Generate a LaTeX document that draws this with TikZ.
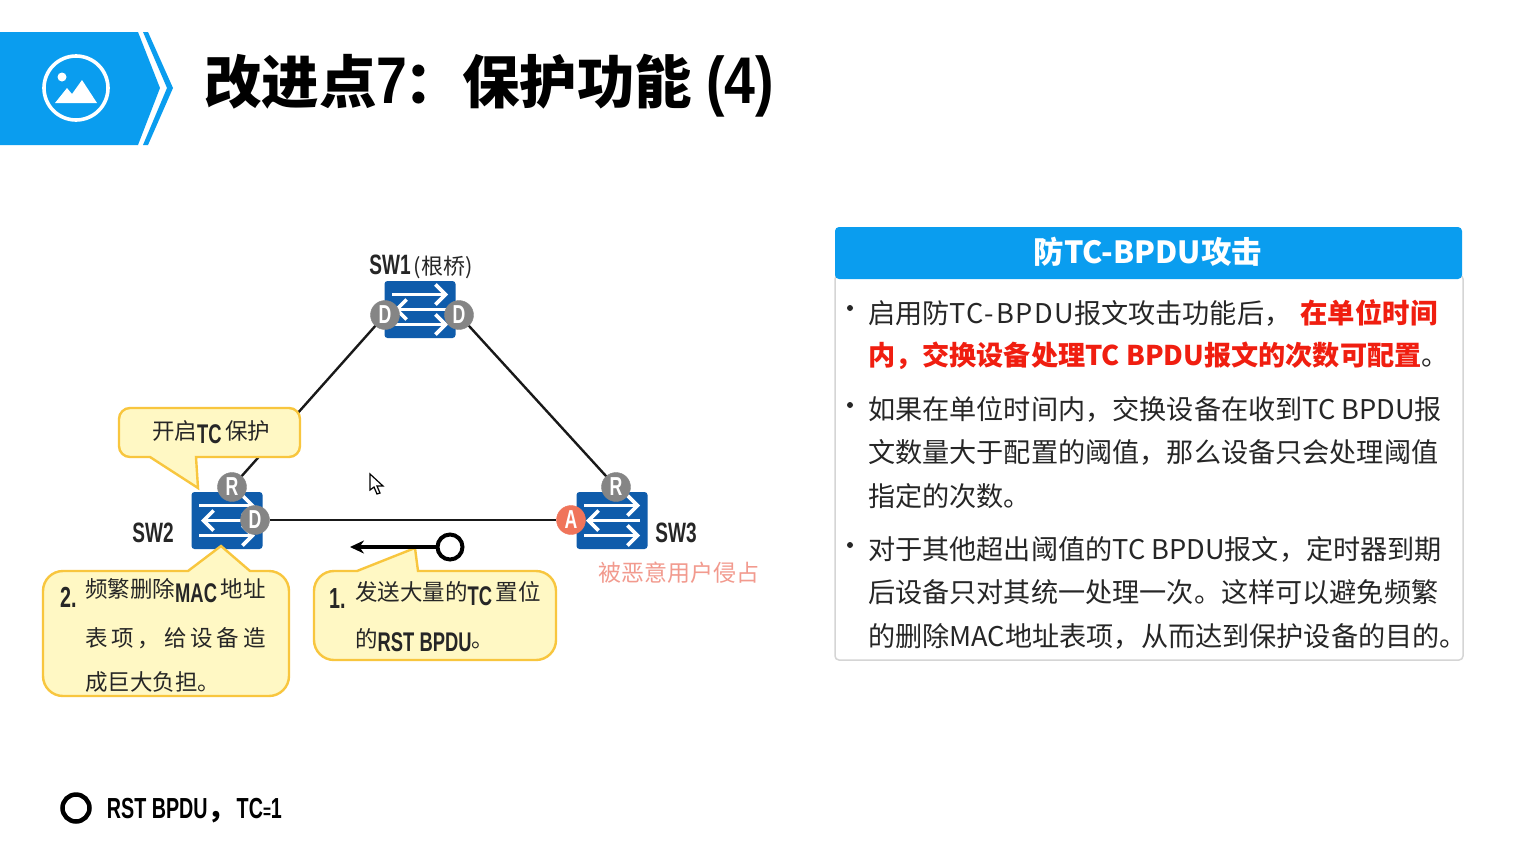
\documentclass[tikz,border=0pt]{standalone}
\usepackage{fontspec}
\usetikzlibrary{arrows.meta, positioning}
\setmainfont{Noto Sans CJK SC}
\newfontfamily\narrowlat[FakeStretch=0.68]{Liberation Sans}
\newfontfamily\narrowbold[FakeStretch=0.84]{Liberation Sans}
\definecolor{bannerblue}{HTML}{0A9DEF}
\definecolor{switchblue}{HTML}{0F5CAB}
\definecolor{portgray}{HTML}{858585}
\definecolor{portred}{HTML}{F0745A}
\definecolor{notefill}{HTML}{FFF8C4}
\definecolor{noteline}{HTML}{F8C63E}
\definecolor{attackred}{HTML}{F29A8E}
\definecolor{panelline}{HTML}{D5D5D5}
\definecolor{hotred}{HTML}{F01E10}
\newcommand{\lat}[1]{{\narrowlat\bfseries #1}}
\newcommand{\latb}[1]{{\narrowbold\bfseries #1}}
\newcommand{\droplat}[2]{\raisebox{-#1}{\fontsize{27pt}{27pt}\selectfont\lat{#2}}}
\tikzset{
  switchbox/.style={fill=switchblue, rounded corners=3pt, minimum width=71pt,
        minimum height=57pt, inner sep=0pt},
  swarrow/.style={draw=white, line width=3.6pt, -{Straight Barb[length=10pt,width=20pt]}},
  portnode/.style={circle, fill=portgray, draw=portgray, minimum size=29pt, inner sep=0pt,
        text=white, font=\fontsize{26pt}{26pt}\selectfont\narrowlat\bfseries},
  linkline/.style={line width=2.4pt, black!90},
  notebox/.style={draw=noteline, fill=notefill, line width=2.4pt, rounded corners=11pt},
  notetext/.style={anchor=west, inner sep=0pt, text=black!85,
        font=\fontsize{22.5pt}{23pt}\selectfont},
  swlabel/.style={inner sep=0pt, text=black!85, font=\fontsize{28pt}{28pt}\selectfont\narrowlat\bfseries},
  paneltext/.style={anchor=west, inner sep=0pt, text=black!85,
        font=\fontsize{27.15pt}{27pt}\selectfont},
  bulletdot/.style={circle, fill=black!85, minimum size=6pt, inner sep=0pt}
}

\begin{document}
\begin{tikzpicture}[x=1pt, y=-1pt, >=Stealth]
  \useasboundingbox (0,0) rectangle (1533,846);
  \fill[white] (0,0) rectangle (1533,846);

  % banner
  \fill[bannerblue] (0,32) -- (138,32) -- (160,88) -- (138,145) -- (0,145) -- cycle;
  \fill[bannerblue] (143,32) -- (148,32) -- (173,88) -- (148,145) -- (143,145) -- (167,88) -- cycle;
  \draw[white, line width=3.6pt] (76,88) circle (32);
  \fill[white] (62,77) circle (4.5);
  \fill[white] (55,103) -- (67,88) -- (72,94) -- (82,80) -- (97,103) -- cycle;
  \node[anchor=west, inner sep=0pt, font=\fontsize{57.5pt}{57pt}\selectfont\bfseries] (title) at (204,86)
    {改进点{\fontsize{66pt}{66pt}\selectfont\latb{7}}\hspace{-3pt}：保护功能\hspace{14pt}{\fontsize{66pt}{66pt}\selectfont\latb{(4)}}};

  % switches
  \foreach \swname/\swx/\swy in {sw1/420/309.5, sw2/227/520.5, sw3/612/520.5} {
    \node[switchbox] (\swname) at (\swx,\swy) {};
    \begin{scope}[shift={(\swname)}]
      \draw[swarrow] (-28,-15) -- (28,-15);
      \draw[swarrow] (28,0) -- (-26,0);
      \draw[swarrow] (-28,15) -- (28,15);
    \end{scope}
  }
  \node[portnode] (sw1d1) at (385,315) {D};
  \node[portnode] (sw1d2) at (459,315) {D};
  \node[portnode] (sw2r) at (232,487) {R};
  \node[portnode] (sw2d) at (255,520) {D};
  \node[portnode] (sw3r) at (616,487) {R};
  \node[portnode, fill=portred, draw=portred] (sw3a) at (571,520) {A};

  \draw[linkline] (sw1d1) -- (sw2r);
  \draw[linkline] (sw1d2) -- (sw3r);
  \draw[linkline] (sw2d) -- (sw3a);

  \node[swlabel] (sw1lab) at (421,267) {SW1\hspace{3pt}{\rmfamily\mdseries\fontsize{22pt}{22pt}\selectfont (根桥)}};
  \node[swlabel] (sw2lab) at (153,533) {SW2};
  \node[swlabel] (sw3lab) at (676,533) {SW3};
  \node[inner sep=0pt, text=attackred, font=\fontsize{23pt}{23pt}\selectfont] (hacked) at (679,573) {被恶意用户侵占};

  % notes
  \draw[notebox] (119,408) -- (300,408) -- (300,457) [sharp corners] -- (196,457)
    -- (198,488) -- (150,457) [rounded corners=11pt] -- (119,457) -- cycle;
  \node[notetext] (tcnote) at (152,432)
    {开启\droplat{4pt}{TC}\,保护};

  \draw[notebox, rounded corners=20pt] (43,571) [sharp corners] -- (188,571) -- (221,546) -- (250,571)
    [rounded corners=20pt] -- (289,571) -- (289,696) -- (43,696) -- cycle;
  \node[notetext, font=\fontsize{29pt}{29pt}\selectfont\narrowlat\bfseries] (num2) at (60,597) {2.};
  \node[notetext] (note2a) at (85,591) {频繁删除\droplat{5pt}{MAC}\,地址};
  \node[notetext] (note2b) at (85,638) {\addfontfeature{LetterSpace=17}表项，给设备造};
  \node[notetext] (note2c) at (85,682) {成巨大负担。};

  \draw[notebox, rounded corners=20pt] (314,571) [sharp corners] -- (357,571) -- (415,548) -- (418,571)
    [rounded corners=20pt] -- (556,571) -- (556,660) -- (314,660) -- cycle;
  \node[notetext, font=\fontsize{29pt}{29pt}\selectfont\narrowlat\bfseries] (num1) at (329,599) {1.};
  \node[notetext] (note1a) at (355,594) {发送大量的\droplat{5pt}{TC}\,置位};
  \node[notetext] (note1b) at (355,640) {的\droplat{4pt}{RST BPDU}。};

  % moving bpdu
  \node[circle, draw=black, line width=4pt, minimum size=25pt, inner sep=0pt] (bpdu) at (450,547) {};
  \coordinate (bpduend) at (350,547);
  \draw[line width=3.2pt, -{Stealth[length=14pt,width=13pt]}] (bpdu) -- (bpduend);

  % cursor
  \draw[black, line width=1.2pt, fill=white] (370,474) -- (370,490) -- (374,487) -- (377,494) -- (380,493) -- (377,486) -- (383,486) -- cycle;

  % panel
  \draw[panelline, line width=1.5pt, rounded corners=4pt] (835,275) rectangle (1463,660);
  \fill[bannerblue, rounded corners=4pt] (835,227) rectangle (1462,279);
  \node[text=white, inner sep=0pt, font=\fontsize{30.5pt}{30pt}\selectfont\bfseries] (headtxt) at (1148,252) {防TC-BPDU攻击};

  \node[bulletdot] (dot1) at (850,308) {};
  \node[bulletdot] (dot2) at (850,405) {};
  \node[bulletdot] (dot3) at (850,545) {};
  \node[paneltext] (line1) at (868,313) {启用防{\addfontfeature{LetterSpace=6}TC-BPDU}报文攻击功能后，\hspace{9pt}{\bfseries\color{hotred}\fontsize{27.4pt}{27pt}\selectfont 在单位时间}};
  \node[paneltext] (line2) at (868,356) {{\bfseries\color{hotred}内，交换设备处理TC BPDU报文的次数可配置}。};
  \node[paneltext] (line3) at (868,409) {如果在单位时间内，交换设备在收到TC BPDU报};
  \node[paneltext] (line4) at (868,452) {文数量大于配置的阈值，那么设备只会处理阈值};
  \node[paneltext] (line5) at (868,496) {指定的次数。};
  \node[paneltext] (line6) at (868,549) {对于其他超出阈值的TC BPDU报文，定时器到期};
  \node[paneltext] (line7) at (868,592) {后设备只对其统一处理一次。这样可以避免频繁};
  \node[paneltext] (line8) at (868,636) {的删除MAC地址表项，从而达到保护设备的目的。};

  % legend
  \node[circle, draw=black, line width=4.5pt, minimum size=27pt, inner sep=0pt] (legcircle) at (76,808) {};
  \node[anchor=west, inner sep=0pt, font=\fontsize{29pt}{29pt}\selectfont\bfseries, right=15pt of legcircle, yshift=-3pt] (legtext)
    {\lat{RST BPDU}，\lat{TC}{\fontsize{20pt}{20pt}\selectfont\lat{=}}\lat{1}};
\end{tikzpicture}
\end{document}
